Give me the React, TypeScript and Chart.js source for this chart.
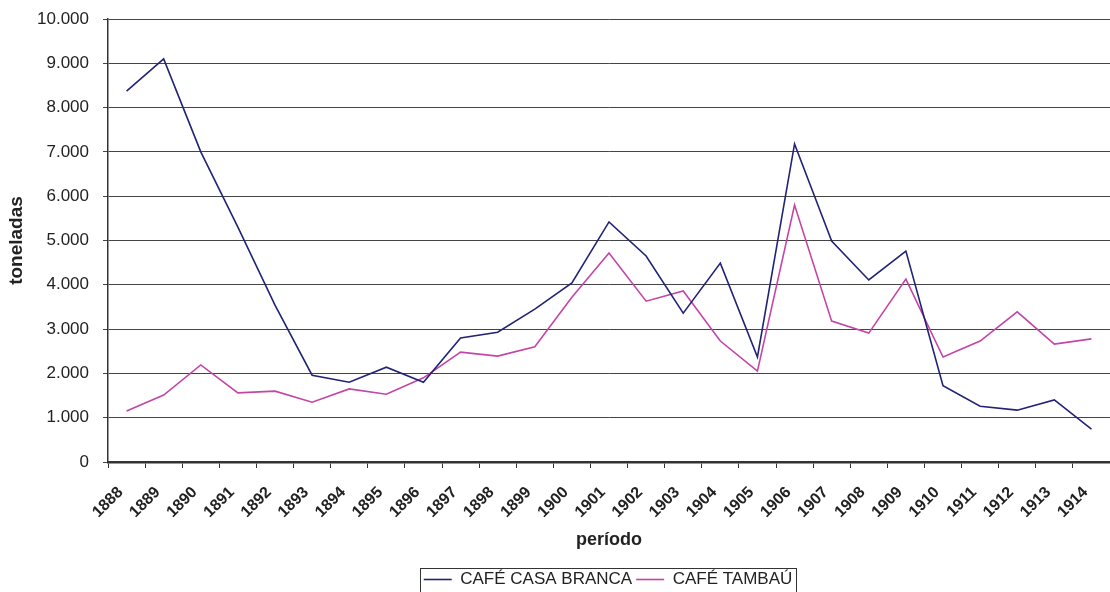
import { useEffect, useRef } from "react";
import { Chart, registerables } from "chart.js";

Chart.register(...registerables);

const years = [
  "1888", "1889", "1890", "1891", "1892", "1893", "1894", "1895", "1896",
  "1897", "1898", "1899", "1900", "1901", "1902", "1903", "1904", "1905",
  "1906", "1907", "1908", "1909", "1910", "1911", "1912", "1913", "1914",
];

const casaBranca = [
  8370, 9100, 7000, 5300, 3540, 1960, 1800, 2140, 1800,
  2800, 2930, 3450, 4040, 5420, 4650, 3360, 4490, 2370,
  7180, 4990, 4110, 4760, 1720, 1260, 1170, 1400, 740,
];

const tambau = [
  1150, 1510, 2190, 1560, 1600, 1350, 1650, 1530, 1900,
  2480, 2390, 2600, 3720, 4720, 3630, 3860, 2730, 2050,
  5800, 3180, 2910, 4130, 2370, 2730, 3390, 2660, 2780,
];

const yMin = 0;
const yMax = 10000;
const yStep = 1000;

const FONT = "Liberation Sans, Arial, sans-serif";

const fmt = (v: number) => String(Math.round(v)).replace(/\B(?=(\d{3})+(?!\d))/g, ".");

const legendTweak = {
  id: "legendTweak",
  afterLayout(chart: any) {
    const l = chart.legend;
    if (!l) return;
    l.left += 53;
    l.right += 53;
    l.top += 6;
    l.bottom += 6;
  },
  afterDraw(chart: any) {
    const l = chart.legend;
    if (!l || !l.legendHitBoxes || !l.legendHitBoxes.length) return;
    const boxes = l.legendHitBoxes;
    const left = Math.min(...boxes.map((b: any) => b.left)) - 4;
    const right = Math.max(...boxes.map((b: any) => b.left + b.width)) + 3;
    const top = Math.min(...boxes.map((b: any) => b.top)) - 3;
    const bottom = Math.max(...boxes.map((b: any) => b.top + b.height)) + 6;
    const ctx = chart.ctx;
    ctx.save();
    ctx.strokeStyle = "#333";
    ctx.lineWidth = 1;
    ctx.strokeRect(Math.round(left) + 0.5, Math.round(top) + 0.5, Math.round(right - left), Math.round(bottom - top));
    ctx.restore();
  },
};

export default function App() {
  const ref = useRef<HTMLCanvasElement>(null);

  useEffect(() => {
    if (!ref.current) return;
    const chart = new Chart(ref.current, {
      type: "line",
      data: {
        labels: years,
        datasets: [
          {
            label: "CAFÉ CASA BRANCA",
            data: casaBranca,
            borderColor: "#212377",
            backgroundColor: "#212377",
            borderWidth: 1.6,
            pointRadius: 0,
            tension: 0,
          },
          {
            label: "CAFÉ TAMBAÚ",
            data: tambau,
            borderColor: "#c445a6",
            backgroundColor: "#c445a6",
            borderWidth: 1.6,
            pointRadius: 0,
            tension: 0,
          },
        ],
      },
      options: {
        responsive: false,
        animation: false,
        layout: { padding: { top: 19, left: 0, right: 0, bottom: 0 } },
        plugins: {
          title: { display: false },
          tooltip: { enabled: false },
          legend: {
            position: "bottom",
            labels: {
              usePointStyle: true,
              pointStyle: "line",
              pointStyleWidth: 28,
              boxWidth: 28,
              padding: 4,
              color: "#222",
              font: { family: FONT, size: 17 },
            },
          },
        },
        scales: {
          x: {
            offset: true,
            afterFit: (s: any) => {
              const lh = s.chart.legend ? s.chart.legend.height : 31;
              s.height = 592 - 462 - lh;
              s.paddingRight = 0;
              s.paddingLeft = 0;
            },
            grid: {
              display: true,
              offset: true,
              drawOnChartArea: false,
              drawTicks: true,
              tickLength: 6,
              color: "#333",
            },
            border: { display: true, color: "#333", width: 2.5 },
            ticks: {
              autoSkip: false,
              maxRotation: 45,
              minRotation: 45,
              padding: 15,
              labelOffset: -6,
              color: "#222",
              font: { family: FONT, size: 16, weight: "bold" },
            },
            title: {
              display: true,
              text: "período",
              color: "#222",
              padding: { top: 5, bottom: 10 },
              font: { family: FONT, size: 18, weight: "bold" },
            },
          },
          y: {
            min: yMin,
            max: yMax,
            afterFit: (s: any) => {
              s.width = 108;
              s.paddingTop = 0;
              s.paddingBottom = 0;
            },
            grid: {
              color: "#444",
              lineWidth: 1,
              drawTicks: true,
              tickLength: 5,
            },
            border: { display: true, color: "#333", width: 1.5 },
            ticks: {
              stepSize: yStep,
              padding: 14,
              color: "#222",
              font: { family: FONT, size: 17 },
              callback: (v: any) => fmt(Number(v)),
            },
            title: {
              display: true,
              text: "toneladas",
              color: "#222",
              padding: { top: 5, bottom: 4 },
              font: { family: FONT, size: 19, weight: "bold" },
            },
          },
        },
      },
      plugins: [legendTweak],
    });
    return () => chart.destroy();
  }, []);

  return (
    <div style={{ position: "absolute", left: 0, top: 0, width: 1110, height: 592, background: "#fff" }}>
      <canvas ref={ref} width={1110} height={592} style={{ display: "block" }} />
    </div>
  );
}
